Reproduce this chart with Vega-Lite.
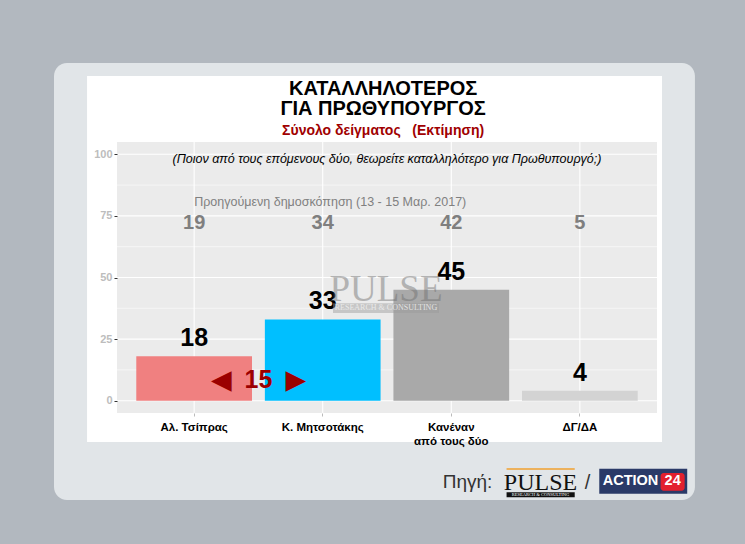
{
  "$schema": "https://vega.github.io/schema/vega-lite/v6.json",
  "width": 540,
  "height": 271,
  "autosize": {"type": "none"},
  "padding": {"left": 117, "top": 142, "right": 88, "bottom": 131},
  "background": "#b2b8bf",
  "config": {"view": {"stroke": null}, "font": "Liberation Sans", "text": {"font": "Liberation Sans"}},
  "datasets": {
    "poll": [
      {"cat": "Αλ. Τσίπρας", "value": 18, "prev": 19},
      {"cat": "Κ. Μητσοτάκης", "value": 33, "prev": 34},
      {"cat": "Κανέναν από τους δύο", "value": 45, "prev": 42},
      {"cat": "ΔΓ/ΔΑ", "value": 4, "prev": 5}
    ],
    "gridMajor": [{"v": 0}, {"v": 25}, {"v": 50}, {"v": 75}, {"v": 100}],
    "gridMinor": [{"v": 12.5}, {"v": 37.5}, {"v": 62.5}, {"v": 87.5}],
    "gridX": [{"p": 1}, {"p": 2}, {"p": 3}, {"p": 4}]
  },
  "resolve": {"scale": {"x": "independent"}},
  "layer": [
    {
      "data": {"values": [{}]},
      "layer": [
        {
          "mark": {"type": "rect", "fill": "#e1e5e8", "cornerRadius": 13},
          "encoding": {
            "x": {"datum": -0.09, "type": "quantitative", "scale": {"domain": [0.4, 4.6], "nice": false, "zero": false}, "axis": null},
            "x2": {"datum": 4.895},
            "y": {"datum": 137.1, "type": "quantitative", "scale": {"domain": [-5, 105], "nice": false, "zero": false}},
            "y2": {"datum": -40.3}
          }
        },
        {
          "mark": {"type": "rect", "fill": "#ffffff"},
          "encoding": {
            "x": {"datum": 0.167, "type": "quantitative", "scale": {"domain": [0.4, 4.6], "nice": false, "zero": false}, "axis": null},
            "x2": {"datum": 4.639},
            "y": {"datum": 131.8, "type": "quantitative", "scale": {"domain": [-5, 105], "nice": false, "zero": false}},
            "y2": {"datum": -16.8}
          }
        },
        {
          "mark": {"type": "rect", "fill": "#ebebeb"},
          "encoding": {
            "x": {"datum": 0.4, "type": "quantitative", "scale": {"domain": [0.4, 4.6], "nice": false, "zero": false}, "axis": null},
            "x2": {"datum": 4.6},
            "y": {"datum": 105, "type": "quantitative", "scale": {"domain": [-5, 105], "nice": false, "zero": false}},
            "y2": {"datum": -5}
          }
        },
        {
          "data": {"name": "gridMinor"},
          "mark": {"type": "rule", "color": "#ffffff", "strokeWidth": 0.55},
          "encoding": {
            "x": {"datum": 0.4, "type": "quantitative", "scale": {"domain": [0.4, 4.6], "nice": false, "zero": false}, "axis": null},
            "x2": {"datum": 4.6},
            "y": {"field": "v", "type": "quantitative", "scale": {"domain": [-5, 105], "nice": false, "zero": false}, "title": null}
          }
        },
        {
          "data": {"name": "gridMajor"},
          "mark": {"type": "rule", "color": "#ffffff", "strokeWidth": 1.1},
          "encoding": {
            "x": {"datum": 0.4, "type": "quantitative", "scale": {"domain": [0.4, 4.6], "nice": false, "zero": false}, "axis": null},
            "x2": {"datum": 4.6},
            "y": {"field": "v", "type": "quantitative", "scale": {"domain": [-5, 105], "nice": false, "zero": false}, "title": null}
          }
        },
        {
          "data": {"name": "gridX"},
          "mark": {"type": "rule", "color": "#ffffff", "strokeWidth": 1.1},
          "encoding": {
            "x": {"field": "p", "type": "quantitative", "scale": {"domain": [0.4, 4.6], "nice": false, "zero": false}, "axis": null},
            "y": {"datum": -5, "type": "quantitative", "scale": {"domain": [-5, 105], "nice": false, "zero": false}},
            "y2": {"datum": 105}
          }
        },
        {
          "mark": {"type": "text", "text": "ΚΑΤΑΛΛΗΛΟΤΕΡΟΣ", "fontSize": 20, "fontWeight": "bold", "color": "#000000", "baseline": "middle", "align": "center"},
          "encoding": {
            "x": {"datum": 2.47, "type": "quantitative", "scale": {"domain": [0.4, 4.6], "nice": false, "zero": false}, "axis": null},
            "y": {"datum": 126.4, "type": "quantitative", "scale": {"domain": [-5, 105], "nice": false, "zero": false}}
          }
        },
        {
          "mark": {"type": "text", "text": "ΓΙΑ ΠΡΩΘΥΠΟΥΡΓΟΣ", "fontSize": 20, "fontWeight": "bold", "color": "#000000", "baseline": "middle", "align": "center"},
          "encoding": {
            "x": {"datum": 2.47, "type": "quantitative", "scale": {"domain": [0.4, 4.6], "nice": false, "zero": false}, "axis": null},
            "y": {"datum": 118.3, "type": "quantitative", "scale": {"domain": [-5, 105], "nice": false, "zero": false}}
          }
        },
        {
          "mark": {"type": "text", "text": "Σύνολο δείγματος\u00a0\u00a0\u00a0(Εκτίμηση)", "fontSize": 14, "fontWeight": "bold", "color": "#a00000", "baseline": "middle", "align": "center"},
          "encoding": {
            "x": {"datum": 2.47, "type": "quantitative", "scale": {"domain": [0.4, 4.6], "nice": false, "zero": false}, "axis": null},
            "y": {"datum": 109.6, "type": "quantitative", "scale": {"domain": [-5, 105], "nice": false, "zero": false}}
          }
        },
        {
          "mark": {"type": "text", "text": "Πηγή:", "fontSize": 19, "color": "#333333", "baseline": "middle", "align": "center"},
          "encoding": {
            "x": {"datum": 3.126, "type": "quantitative", "scale": {"domain": [0.4, 4.6], "nice": false, "zero": false}, "axis": null},
            "y": {"datum": -33.0, "type": "quantitative", "scale": {"domain": [-5, 105], "nice": false, "zero": false}}
          }
        },
        {
          "mark": {"type": "rule", "color": "#f0a030", "strokeWidth": 1.5},
          "encoding": {
            "x": {"datum": 3.43, "type": "quantitative", "scale": {"domain": [0.4, 4.6], "nice": false, "zero": false}, "axis": null},
            "x2": {"datum": 3.96},
            "y": {"datum": -27.7, "type": "quantitative", "scale": {"domain": [-5, 105], "nice": false, "zero": false}}
          }
        },
        {
          "mark": {"type": "text", "text": "PULSE", "font": "Liberation Serif", "fontSize": 24, "color": "#111111", "baseline": "alphabetic", "align": "center"},
          "encoding": {
            "x": {"datum": 3.694, "type": "quantitative", "scale": {"domain": [0.4, 4.6], "nice": false, "zero": false}, "axis": null},
            "y": {"datum": -36.4, "type": "quantitative", "scale": {"domain": [-5, 105], "nice": false, "zero": false}}
          }
        },
        {
          "mark": {"type": "rect", "fill": "#111111"},
          "encoding": {
            "x": {"datum": 3.43, "type": "quantitative", "scale": {"domain": [0.4, 4.6], "nice": false, "zero": false}, "axis": null},
            "x2": {"datum": 3.96},
            "y": {"datum": -37.2, "type": "quantitative", "scale": {"domain": [-5, 105], "nice": false, "zero": false}},
            "y2": {"datum": -39.2}
          }
        },
        {
          "mark": {"type": "text", "text": "RESEARCH & CONSULTING", "font": "Liberation Serif", "fontSize": 4.5, "color": "#ffffff", "baseline": "middle", "align": "center"},
          "encoding": {
            "x": {"datum": 3.694, "type": "quantitative", "scale": {"domain": [0.4, 4.6], "nice": false, "zero": false}, "axis": null},
            "y": {"datum": -38.2, "type": "quantitative", "scale": {"domain": [-5, 105], "nice": false, "zero": false}}
          }
        },
        {
          "mark": {"type": "text", "text": "/", "fontSize": 20, "color": "#333333", "baseline": "middle", "align": "center"},
          "encoding": {
            "x": {"datum": 4.06, "type": "quantitative", "scale": {"domain": [0.4, 4.6], "nice": false, "zero": false}, "axis": null},
            "y": {"datum": -33.4, "type": "quantitative", "scale": {"domain": [-5, 105], "nice": false, "zero": false}}
          }
        },
        {
          "mark": {"type": "rect", "fill": "#2a3a68"},
          "encoding": {
            "x": {"datum": 4.151, "type": "quantitative", "scale": {"domain": [0.4, 4.6], "nice": false, "zero": false}, "axis": null},
            "x2": {"datum": 4.835},
            "y": {"datum": -27.6, "type": "quantitative", "scale": {"domain": [-5, 105], "nice": false, "zero": false}},
            "y2": {"datum": -37.8}
          }
        },
        {
          "mark": {"type": "text", "text": "ACTION", "fontSize": 14.5, "fontWeight": "bold", "color": "#ffffff", "baseline": "middle", "align": "center"},
          "encoding": {
            "x": {"datum": 4.394, "type": "quantitative", "scale": {"domain": [0.4, 4.6], "nice": false, "zero": false}, "axis": null},
            "y": {"datum": -32.7, "type": "quantitative", "scale": {"domain": [-5, 105], "nice": false, "zero": false}}
          }
        },
        {
          "mark": {"type": "rect", "fill": "#e3202e", "cornerRadius": 3},
          "encoding": {
            "x": {"datum": 4.628, "type": "quantitative", "scale": {"domain": [0.4, 4.6], "nice": false, "zero": false}, "axis": null},
            "x2": {"datum": 4.815},
            "y": {"datum": -29.4, "type": "quantitative", "scale": {"domain": [-5, 105], "nice": false, "zero": false}},
            "y2": {"datum": -36.6}
          }
        },
        {
          "mark": {"type": "text", "text": "24", "fontSize": 14.5, "fontWeight": "bold", "color": "#ffffff", "baseline": "middle", "align": "center"},
          "encoding": {
            "x": {"datum": 4.722, "type": "quantitative", "scale": {"domain": [0.4, 4.6], "nice": false, "zero": false}, "axis": null},
            "y": {"datum": -32.8, "type": "quantitative", "scale": {"domain": [-5, 105], "nice": false, "zero": false}}
          }
        }
      ]
    },
    {
      "data": {"name": "poll"},
      "layer": [
        {
          "mark": {"type": "bar", "width": {"band": 0.9}},
          "encoding": {
            "x": {
              "field": "cat", "type": "nominal", "sort": null,
              "scale": {"paddingInner": 0, "paddingOuter": 0.1},
              "axis": {
                "title": null, "domain": false, "grid": false, "zindex": 1,
                "tickColor": "#bbbbbb", "tickSize": 3, "labelAngle": 0,
                "labelFontSize": 11.5, "labelFontWeight": "bold", "labelColor": "#000000",
                "labelBaseline": "middle", "labelPadding": 11, "labelLineHeight": 14.5,
                "labelExpr": "datum.value == 'Κανέναν από τους δύο' ? ['Κανέναν', 'από τους δύο'] : datum.value"
              }
            },
            "y": {
              "field": "value", "type": "quantitative",
              "scale": {"domain": [-5, 105], "nice": false, "zero": false},
              "axis": {
                "title": null, "values": [0, 25, 50, 75, 100], "domain": false, "grid": false, "zindex": 1,
                "tickColor": "#333333", "tickSize": 3, "labelPadding": 2,
                "labelFontSize": 11, "labelFontWeight": "bold", "labelColor": "#bdbdbd"
              }
            },
            "y2": {"datum": 0},
            "color": {
              "field": "cat", "type": "nominal", "legend": null,
              "scale": {
                "domain": ["Αλ. Τσίπρας", "Κ. Μητσοτάκης", "Κανέναν από τους δύο", "ΔΓ/ΔΑ"],
                "range": ["#f08080", "#00bfff", "#a9a9a9", "#d3d3d3"]
              }
            }
          }
        },
        {
          "mark": {"type": "text", "fontSize": 25, "fontWeight": "bold", "color": "#000000", "baseline": "alphabetic", "dy": -10},
          "encoding": {
            "x": {"field": "cat", "type": "nominal", "sort": null},
            "y": {"field": "value", "type": "quantitative", "scale": {"domain": [-5, 105], "nice": false, "zero": false}, "title": null},
            "text": {"field": "value", "type": "quantitative"}
          }
        },
        {
          "mark": {"type": "text", "fontSize": 20, "fontWeight": "bold", "color": "#7f7f7f", "baseline": "middle"},
          "encoding": {
            "x": {"field": "cat", "type": "nominal", "sort": null},
            "y": {"datum": 72, "type": "quantitative", "scale": {"domain": [-5, 105], "nice": false, "zero": false}},
            "text": {"field": "prev", "type": "quantitative"}
          }
        }
      ]
    },
    {
      "data": {"values": [{}]},
      "layer": [
        {
          "mark": {"type": "text", "text": "(Ποιον από τους επόμενους δύο, θεωρείτε καταλληλότερο για Πρωθυπουργό;)", "fontSize": 12.5, "fontStyle": "italic", "color": "#000000", "baseline": "middle", "align": "center"},
          "encoding": {
            "x": {"datum": 2.5, "type": "quantitative", "scale": {"domain": [0.4, 4.6], "nice": false, "zero": false}, "axis": null},
            "y": {"datum": 98, "type": "quantitative", "scale": {"domain": [-5, 105], "nice": false, "zero": false}}
          }
        },
        {
          "mark": {"type": "text", "text": "Προηγούμενη δημοσκόπηση (13 - 15 Μαρ. 2017)", "fontSize": 12.5, "color": "#808080", "baseline": "middle", "align": "left"},
          "encoding": {
            "x": {"datum": 1.0, "type": "quantitative", "scale": {"domain": [0.4, 4.6], "nice": false, "zero": false}, "axis": null},
            "y": {"datum": 80.8, "type": "quantitative", "scale": {"domain": [-5, 105], "nice": false, "zero": false}}
          }
        },
        {
          "mark": {"type": "text", "text": "PULSE", "font": "Liberation Serif", "fontSize": 37, "color": "#6e6e6e", "opacity": 0.45, "baseline": "alphabetic", "align": "center"},
          "encoding": {
            "x": {"datum": 2.492, "type": "quantitative", "scale": {"domain": [0.4, 4.6], "nice": false, "zero": false}, "axis": null},
            "y": {"datum": 40.3, "type": "quantitative", "scale": {"domain": [-5, 105], "nice": false, "zero": false}}
          }
        },
        {
          "mark": {"type": "rect", "fill": "#9a9a9a", "opacity": 0.45},
          "encoding": {
            "x": {"datum": 2.08, "type": "quantitative", "scale": {"domain": [0.4, 4.6], "nice": false, "zero": false}, "axis": null},
            "x2": {"datum": 2.904},
            "y": {"datum": 39.5, "type": "quantitative", "scale": {"domain": [-5, 105], "nice": false, "zero": false}},
            "y2": {"datum": 35.6}
          }
        },
        {
          "mark": {"type": "text", "text": "RESEARCH & CONSULTING", "font": "Liberation Serif", "fontSize": 8, "color": "#f2f2f2", "opacity": 0.8, "baseline": "middle", "align": "center"},
          "encoding": {
            "x": {"datum": 2.492, "type": "quantitative", "scale": {"domain": [0.4, 4.6], "nice": false, "zero": false}, "axis": null},
            "y": {"datum": 37.5, "type": "quantitative", "scale": {"domain": [-5, 105], "nice": false, "zero": false}}
          }
        },
        {
          "mark": {"type": "text", "text": "◀\u00a0\u00a015\u00a0\u00a0▶", "fontSize": 25, "fontWeight": "bold", "color": "#9b0000", "baseline": "middle", "align": "center"},
          "encoding": {
            "x": {"datum": 1.5, "type": "quantitative", "scale": {"domain": [0.4, 4.6], "nice": false, "zero": false}, "axis": null},
            "y": {"datum": 8.4, "type": "quantitative", "scale": {"domain": [-5, 105], "nice": false, "zero": false}}
          }
        }
      ]
    }
  ]
}
